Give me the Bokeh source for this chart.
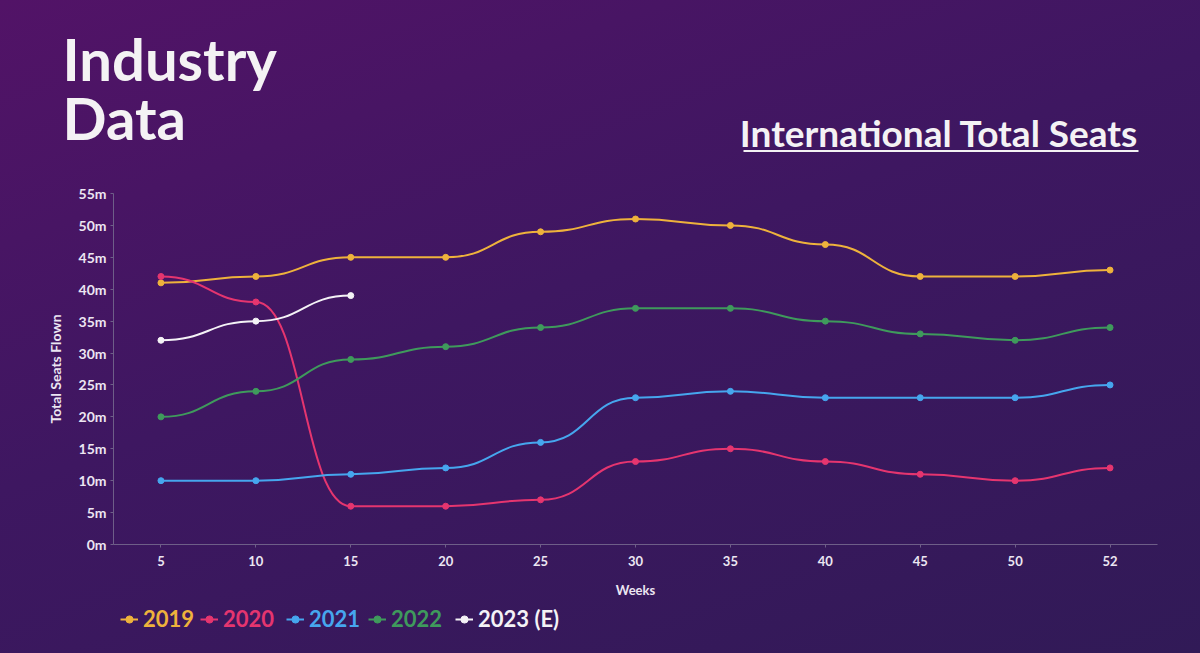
from bokeh.plotting import figure
from bokeh.layouts import column, row
from bokeh.models import Range1d, FixedTicker, Label, BoxAnnotation, Legend, LegendItem, ColumnDataSource
from bokeh.embed import file_html
from bokeh.resources import INLINE

weeks = ["5", "10", "15", "20", "25", "30", "35", "40", "45", "50", "52"]
y_ticks = [0, 5, 10, 15, 20, 25, 30, 35, 40, 45, 50, 55]
seats_2019 = [41, 42, 45, 45, 49, 51, 50, 47, 42, 42, 43]
seats_2020 = [42, 38, 6, 6, 7, 13, 15, 13, 11, 10, 12]
seats_2021 = [10, 10, 11, 12, 16, 23, 24, 23, 23, 23, 25]
seats_2022 = [20, 24, 29, 31, 34, 37, 37, 35, 33, 32, 34]
seats_2023 = [32, 35, 39]
series_names = ["2019", "2020", "2021", "2022", "2023 (E)"]
series_vals = [seats_2019, seats_2020, seats_2021, seats_2022, seats_2023]
colors = ["#EEB23C", "#E5356F", "#46A6EE", "#3F9A5C", "#F4F2F6"]

FONT = "Lato"
TXT = "#ECE6F2"
WHITE = "#F4F2F4"
AXIS = "#6E5E88"
W = 1184


def blank(h):
    f = figure(width=W, height=h, output_backend="svg", toolbar_location=None,
               x_range=Range1d(0, W), y_range=Range1d(0, h),
               min_border=0, min_border_left=0, min_border_right=0,
               min_border_top=0, min_border_bottom=0)
    f.axis.visible = False
    f.grid.visible = False
    f.background_fill_alpha = 0
    f.border_fill_alpha = 0
    f.outline_line_alpha = 0
    return f


# ---- header (image y 8..178) ----
HH = 170
head = blank(HH)
head.add_layout(Label(x=54, y=120, text="Industry",
                      text_font=FONT, text_font_style="bold", text_font_size="58px",
                      text_color=WHITE, text_baseline="alphabetic"))
head.add_layout(Label(x=54, y=61, text="Data",
                      text_font=FONT, text_font_style="bold", text_font_size="58px",
                      text_color=WHITE, text_baseline="alphabetic"))
head.add_layout(Label(x=1130, y=46, text="International Total Seats",
                      text_font=FONT, text_font_style="bold", text_font_size="37px",
                      text_color=WHITE, text_baseline="alphabetic", text_align="right"))
head.add_layout(BoxAnnotation(left=735, right=1130, bottom=178 - 151.5, top=178 - 149.5,
                              fill_color=WHITE, fill_alpha=1, line_alpha=0))

# ---- main chart (image y 178..600) ----
p = figure(width=W, height=422, output_backend="svg", toolbar_location=None,
           x_range=Range1d(-0.5, 10.5), y_range=Range1d(0, 55),
           min_border_left=105, min_border_right=35, min_border_top=15, min_border_bottom=54)
p.background_fill_alpha = 0
p.border_fill_alpha = 0
p.outline_line_alpha = 0
p.xgrid.visible = False
p.ygrid.visible = False

p.xaxis.ticker = FixedTicker(ticks=list(range(len(weeks))))
p.xaxis.major_label_overrides = {i: w for i, w in enumerate(weeks)}
p.yaxis.ticker = FixedTicker(ticks=y_ticks)
p.yaxis.major_label_overrides = {t: f"{t}m" for t in y_ticks}
for ax in (p.xaxis[0], p.yaxis[0]):
    ax.axis_line_color = AXIS
    ax.axis_line_width = 1
    ax.major_tick_line_color = AXIS
    ax.major_tick_in = 0
    ax.major_tick_out = 3
    ax.minor_tick_line_color = None
    ax.major_label_text_color = TXT
    ax.major_label_text_font = FONT
    ax.major_label_text_font_style = "bold"
    ax.major_label_text_font_size = "14px"
    ax.axis_label_text_color = TXT
    ax.axis_label_text_font = FONT
    ax.axis_label_text_font_style = "bold"
    ax.axis_label_text_font_size = "14px"
p.xaxis.major_label_text_font_size = "13px"
p.xaxis.axis_label_text_font_size = "13px"
p.xaxis.axis_label = "Weeks"
p.yaxis.axis_label = "Total Seats Flown"
p.xaxis.major_label_standoff = 8
p.yaxis.major_label_standoff = 4
p.xaxis.axis_label_standoff = 13
p.yaxis.axis_label_standoff = 12

# ---- footer legend (image y 600..645) ----
FH = 45
foot = blank(FH)
legend_x = [112, 192, 278, 360, 447]
nan = float("nan")

for name, vals, col, lx in zip(series_names, series_vals, colors, legend_x):
    xs = list(range(len(vals)))
    src = ColumnDataSource(dict(
        x0=xs[:-1], y0=vals[:-1], x1=xs[1:], y1=vals[1:],
        cx=[(a + b) / 2 for a, b in zip(xs[:-1], xs[1:])]))
    p.bezier(x0="x0", y0="y0", x1="x1", y1="y1", cx0="cx", cy0="y0", cx1="cx", cy1="y1",
             source=src, line_color=col, line_width=2)
    p.scatter(xs, vals, size=6, color=col)
    lr = foot.line(x=[nan, nan], y=[nan, nan], line_color=col, line_width=2)
    sr = foot.scatter(x=[nan], y=[nan], size=6, color=col)
    lg = Legend(items=[LegendItem(label=name, renderers=[lr, sr])], location=(lx, 13),
                label_text_color=col, label_text_font=FONT, label_text_font_style="bold",
                label_text_font_size="22px", background_fill_alpha=0, border_line_alpha=0,
                padding=0, margin=0, glyph_width=18, glyph_height=20, label_height=20,
                label_standoff=5, spacing=0)
    foot.add_layout(lg)

layout = column(row(head), p, row(foot), spacing=0)

html = file_html(layout, INLINE, title="Industry Data")
style = ("<style>html{min-height:100%;background:linear-gradient(160deg,#521367 0%,#3e1761 45%,#311a57 100%);}"
         "body{margin:8px;background:transparent;}</style>")
html = html.replace("</head>", style + "</head>", 1)
open("out.html", "w").write(html)
